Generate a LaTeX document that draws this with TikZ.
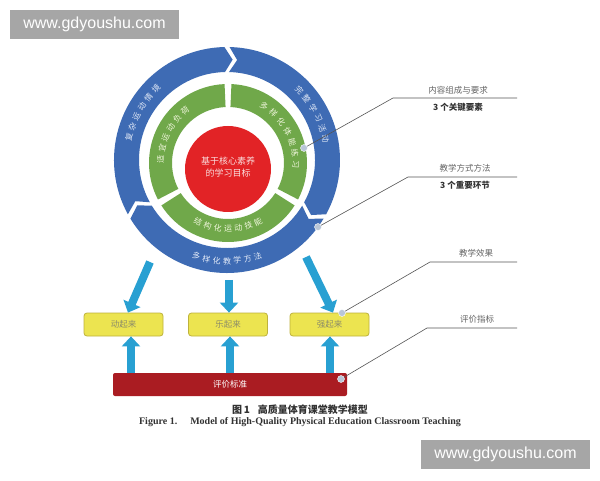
\documentclass[tikz,border=0pt]{standalone}
\usepackage{fontspec}
\setmainfont{Liberation Serif}
\newfontfamily\cjk{Noto Sans CJK SC}
\newfontfamily\wmfont{Liberation Sans}
\usetikzlibrary{arrows.meta}
\definecolor{ringblue}{RGB}{62,107,180}
\definecolor{ringgreen}{RGB}{112,168,74}
\definecolor{corered}{RGB}{226,35,38}
\definecolor{arrowcyan}{RGB}{40,160,210}
\definecolor{boxyellow}{RGB}{236,228,80}
\definecolor{boxedge}{RGB}{190,178,60}
\definecolor{boxtext}{RGB}{140,140,105}
\definecolor{barred}{RGB}{170,28,34}
\definecolor{leader}{RGB}{85,85,85}
\definecolor{dotblue}{RGB}{185,198,215}
\definecolor{wmgray}{RGB}{166,166,166}
\definecolor{bluetext}{RGB}{225,233,247}
\definecolor{greentext}{RGB}{240,246,220}
\definecolor{redtext}{RGB}{250,222,222}
\definecolor{lblgray}{RGB}{100,100,100}
\definecolor{lbldark}{RGB}{50,50,50}
\begin{document}
\begin{tikzpicture}[x=1pt,y=1pt,
  ringtxt/.style={font=\cjk\fontsize{8}{9}\selectfont, inner sep=0pt},
  bigarrow/.style={draw=arrowcyan, line width=8pt, -{Triangle[width=18pt,length=10pt,fill=arrowcyan]}},
  ybox/.style={draw=boxedge, fill=boxyellow, rounded corners=3pt, minimum width=79pt, minimum height=23pt, line width=0.8pt, inner sep=0pt, text=boxtext, font=\cjk\fontsize{8.5}{9}\selectfont},
  leaderline/.style={draw=leader, line width=0.6pt},
  ldot/.style={circle, fill=dotblue, draw=white, line width=0.4pt, inner sep=0pt, minimum size=7pt},
  lbl/.style={font=\cjk\fontsize{8.5}{9}\selectfont, text=lblgray, inner sep=0pt},
  lblb/.style={font=\cjk\bfseries\fontsize{8.5}{9}\selectfont, text=lbldark, inner sep=0pt},
  wmbox/.style={fill=wmgray, minimum width=169pt, minimum height=29pt, inner sep=0pt, text=white, font=\wmfont\fontsize{16}{18}\selectfont}
]
\useasboundingbox (0,0) rectangle (600,480);
\fill[white] (0,0) rectangle (600,480);

% outer blue ring
\begin{scope}[shift={(227,320)}]
  \foreach \a/\b in {210/90, 90/-30, -30/-150} {
    \fill[ringblue] ({\a-1.3}:113) arc[start angle={\a-1.3}, end angle={\b+1.3}, radius=113]
      -- ({\b+1.3-4.5}:100.5) -- ({\b+1.3}:88)
      arc[start angle={\b+1.3}, end angle={\a-1.3}, radius=88]
      -- ({\a-1.3-4.5}:100.5) -- cycle;
  }
  \foreach \c [count=\i from 0] in {复,杂,运,动,情,境}
    \node[ringtxt, text=bluetext, rotate={151+(2.5-\i)*6.4-90}] (ba\i) at ({151+(2.5-\i)*6.4}:100.5) {\c};
  \foreach \c [count=\i from 0] in {完,整,学,习,活,动}
    \node[ringtxt, text=bluetext, rotate={28+(2.5-\i)*6.4-90}] (bb\i) at ({28+(2.5-\i)*6.4}:100.5) {\c};
  \foreach \c [count=\i from 0] in {多,样,化,教,学,方,法}
    \node[ringtxt, text=bluetext, rotate={-90+(\i-3)*5.9+90}] (bc\i) at ({-90+(\i-3)*5.9}:101) {\c};
\end{scope}

% green ring
\begin{scope}[shift={(228,317)}]
  \foreach \a/\b in {90/210, -30/90, 210/330} {
    \fill[ringgreen] ({\a+2.5}:79) arc[start angle={\a+2.5}, end angle={\b-2.5}, radius=79]
      -- ({\b-2.5}:56) arc[start angle={\b-2.5}, end angle={\a+2.5}, radius=56] -- cycle;
  }
  \foreach \c [count=\i from 0] in {适,宜,运,动,负,荷}
    \node[ringtxt, text=greentext, rotate={153+(2.5-\i)*9.4-90}] (ga\i) at ({153+(2.5-\i)*9.4}:67.5) {\c};
  \foreach \c [count=\i from 0] in {多,样,化,体,能,练,习}
    \node[ringtxt, text=greentext, rotate={28+(3-\i)*9.9-90}] (gb\i) at ({28+(3-\i)*9.9}:67.5) {\c};
  \foreach \c [count=\i from 0] in {结,构,化,运,动,技,能}
    \node[ringtxt, text=greentext, rotate={-90+(\i-3)*9+90}] (gc\i) at ({-90+(\i-3)*9}:66) {\c};
\end{scope}

% red core
\fill[corered] (228,311) circle[radius=43];
\node[font=\cjk\fontsize{9}{11.5}\selectfont, text=redtext, align=center, inner sep=0pt] (core) at (228,313) {基于核心素养\\的学习目标};

% boxes
\node[ybox] (b1) at (123.5,155.5) {动起来};
\node[ybox] (b2) at (228,155.5) {乐起来};
\node[ybox] (b3) at (329.5,155.5) {强起来};
\node[fill=barred, rounded corners=2pt, minimum width=234pt, minimum height=23pt, inner sep=0pt, text=white, font=\cjk\fontsize{8.5}{9}\selectfont] (bar) at (230,95.5) {评价标准};

% arrows from ring
\coordinate (s1) at (150,218);
\coordinate (s2) at (229,200);
\coordinate (s3) at (306,223);
\draw[bigarrow] (s1) -- (b1.north -| 128,0) ;
\draw[bigarrow] (s2) -- (b2.north -| 229,0);
\draw[bigarrow] (s3) -- (b3.north -| 333,0);
% arrows from bar
\draw[bigarrow] (bar.north -| 131,0) -- (b1.south -| 131,0);
\draw[bigarrow] (bar.north -| 230,0) -- (b2.south -| 230,0);
\draw[bigarrow] (bar.north -| 330,0) -- (b3.south -| 330,0);

% leaders
\coordinate (k1) at (393,382); \coordinate (e1) at (517,382);
\coordinate (k2) at (408,303); \coordinate (e2) at (517,303);
\coordinate (k3) at (430,218); \coordinate (e3) at (517,218);
\coordinate (k4) at (427,152); \coordinate (e4) at (517,152);
\coordinate (p1) at (304,332);
\coordinate (p2) at (318,253);
\coordinate (p3) at (342,167);
\coordinate (p4) at (341,101);
\draw[leaderline] (p1) -- (k1) -- (e1);
\draw[leaderline] (p2) -- (k2) -- (e2);
\draw[leaderline] (p3) -- (k3) -- (e3);
\draw[leaderline] (p4) -- (k4) -- (e4);
\node[ldot] (d1) at (p1) {};
\node[ldot] (d2) at (p2) {};
\node[ldot] (d3) at (p3) {};
\node[ldot] (d4) at (p4) {};

\node[lbl] (l1a) at (458,390) {内容组成与要求};
\node[lblb] (l1b) at (458,373) {3 个关键要素};
\node[lbl] (l2a) at (465,312) {教学方式方法};
\node[lblb] (l2b) at (465,295) {3 个重要环节};
\node[lbl] (l3a) at (476,227) {教学效果};
\node[lbl] (l4a) at (477,161) {评价指标};

% captions
\node[font=\cjk\bfseries\fontsize{10}{12}\selectfont, inner sep=0pt, text=lbldark] (cap1) at (300,70) {图\,1\hspace{8pt}高质量体育课堂教学模型};
\node[font=\bfseries\fontsize{10}{12}\selectfont, inner sep=0pt, text=lbldark] (cap2) at (300,58) {Figure 1.\hspace{13pt}Model of High-Quality Physical Education Classroom Teaching};

% watermarks
\node[wmbox] (wm1) at (94.5,455.5) {www.gdyoushu.com};
\node[wmbox] (wm2) at (505.5,25.5) {www.gdyoushu.com};
\end{tikzpicture}
\end{document}
